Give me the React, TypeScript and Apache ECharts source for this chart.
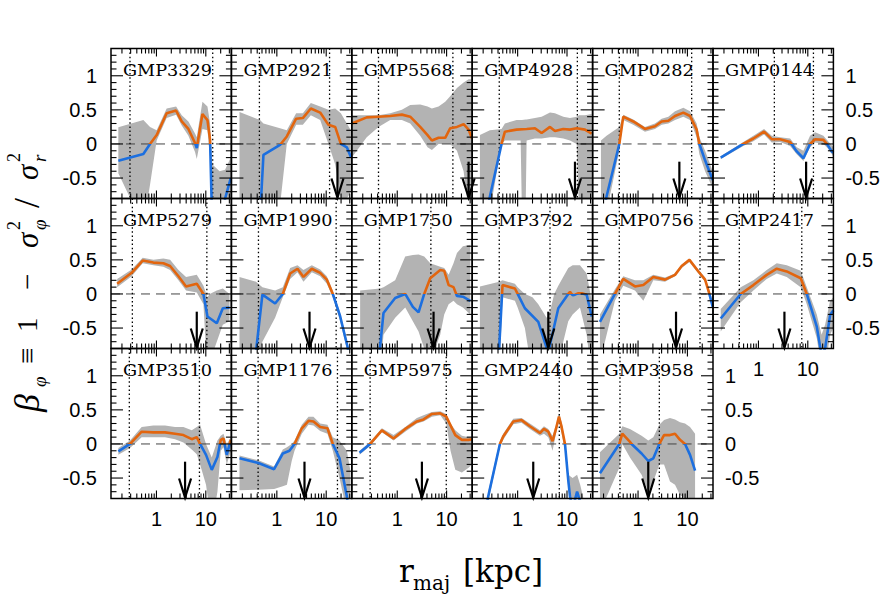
import React, { useEffect, useRef } from "react";
import * as echarts from "echarts";

// ---------- data ----------
const NAMES = [
  "GMP3329", "GMP2921", "GMP5568", "GMP4928", "GMP0282", "GMP0144",
  "GMP5279", "GMP1990", "GMP1750", "GMP3792", "GMP0756", "GMP2417",
  "GMP3510", "GMP1176", "GMP5975", "GMP2440", "GMP3958",
];

// [r_kpc, beta]
const LINE_3329 = [[0.169,-0.245],[0.543,-0.147],[0.741,0],[1.01,0.13],[1.61,0.45],[2.5,0.49],[3.25,0.33],[4.44,0.22],[6.07,0.01],[6.56,-0.06],[8.55,0.44],[10.8,0.35],[12.2,0.06],[13.6,-1.3],[19,-1.6],[24.6,-0.8],[32,-0.5]];
const LINE_2921 = [[0.33,-1.6],[0.44,-1.3],[0.535,-0.16],[1.16,-0.015],[1.59,0.11],[2.46,0.37],[3.36,0.38],[4.88,0.52],[7.55,0.46],[11.1,0.28],[15.2,0.25],[19.8,0],[26.2,-0.05],[31.6,-0.19]];
const LINE_5568 = [[0.12,0.3],[0.241,0.39],[0.417,0.4],[0.72,0.41],[1.24,0.43],[1.83,0.4],[2.92,0.25],[4.11,0.13],[5.03,0.05],[6.87,0.09],[9.38,0.09],[11.8,0.23],[16.2,0.25],[22.1,0.29],[27.9,0.21],[32.6,0.08]];
const LINE_4928 = [[0.2,-1.3],[0.274,-0.77],[0.472,0],[0.552,0.18],[0.95,0.21],[1.52,0.22],[2.24,0.23],[3.06,0.16],[4.52,0.25],[5.7,0.19],[8.41,0.22],[11.5,0.21],[15.7,0.23],[23.1,0.21],[31.6,0.15]];
const LINE_0282 = [[0.18,-1.2],[0.23,-0.77],[0.417,0],[0.502,0.4],[0.8,0.33],[1.38,0.22],[2.2,0.26],[3.01,0.33],[4.11,0.34],[5.61,0.41],[8.28,0.46],[11.3,0.41],[15.4,0.21],[17.5,0],[22.8,-0.24],[32.6,-0.53]];
const LINE_0144 = [[0.172,-0.2],[0.494,0],[0.789,0.08],[1.3,0.18],[1.86,0.07],[2.74,0.07],[4.38,0.03],[5.97,-0.11],[8.15,-0.21],[11.1,0],[14.1,0.07],[20.7,0.06],[25,-0.01],[30.6,-0.11],[33,-0.13]];
const LINE_5279 = [[0.16,0.15],[0.315,0.31],[0.526,0.49],[0.867,0.46],[1.38,0.45],[1.89,0.41],[2.79,0.26],[3.98,0.11],[6.56,0.15],[8.95,0],[10.8,-0.33],[16.7,-0.43],[22.1,-0.21],[30.2,-0.2]];
const LINE_1990 = [[0.33,-1.5],[0.37,-0.9],[0.51,-0.01],[0.922,-0.14],[1.32,0],[1.86,0.3],[2.62,0.37],[3.46,0.25],[5.11,0.37],[7.55,0.31],[10.3,0.21],[13.6,0],[19.2,-0.33],[27,-0.77],[31,-1.1]];
const LINE_1750 = [[0.4,-1.2],[0.45,-0.77],[0.526,-0.28],[0.908,-0.06],[1.45,0],[2.07,-0.19],[2.7,-0.27],[3.52,0],[4.66,0.23],[7.43,0.35],[8.95,0.34],[11,0.13],[13.8,0.1],[16.2,-0.03],[21.4,-0.04],[30.2,-0.1]];
const LINE_3792 = [[0.38,-1.3],[0.424,-0.77],[0.494,0.13],[0.88,0.08],[1.0,0],[1.4,-0.21],[2.62,-0.41],[3.86,-0.79],[4.38,-0.79],[6.66,-0.21],[10.6,0],[11.5,0.03],[13,-0.02],[14.5,-0.01],[17,0.01],[20,0.01],[25,-0.01],[31.6,-0.33]];
const LINE_0756 = [[0.169,-0.41],[0.34,0],[0.502,0.22],[0.867,0.11],[1.28,0.13],[2.04,0.25],[3.52,0.21],[5.61,0.28],[7.66,0.41],[11,0.5],[16.7,0.33],[22.8,0.21],[27.9,0],[32.6,-0.19]];
const LINE_2417 = [[0.172,-0.36],[0.437,0],[0.789,0.13],[1.47,0.28],[2.35,0.37],[3.74,0.33],[7.19,0.23],[9.53,0],[15.2,-0.48],[19,-0.9],[22.4,-0.8],[28.3,-0.31],[33,-0.24]];
const LINE_3510 = [[0.169,-0.11],[0.291,0],[0.502,0.18],[0.867,0.17],[1.49,0.17],[2.38,0.15],[3.52,0.13],[5.19,0.07],[6.56,0.1],[7.66,0],[10.1,-0.16],[13.2,-0.38],[17.2,-0.19],[20.1,0.06],[22.8,0.08],[26.6,-0.16],[32.1,0.06]];
const LINE_1176 = [[0.175,-0.21],[0.424,-0.28],[0.88,-0.37],[1.32,-0.14],[1.8,-0.1],[2.28,0],[3.2,0.23],[4.38,0.34],[5.52,0.33],[7.55,0.25],[10.6,0.23],[13.6,0],[18.6,-0.21],[26.2,-0.77],[31,-1.2]];
const LINE_5975 = [[0.172,-0.13],[0.282,0],[0.488,0.2],[0.84,0.08],[1.45,0.22],[2.5,0.33],[3.41,0.36],[5.03,0.44],[7.43,0.45],[9.84,0.4],[15,0.13],[20.4,0.06],[27.9,0.06],[32.6,0.07]];
const LINE_2440 = [[0.2,-1.2],[0.253,-0.77],[0.437,0],[0.51,0.11],[0.815,0.33],[1.2,0.35],[1.77,0.26],[2.83,0.16],[3.41,0.22],[4.18,0.18],[5.1,0.04],[5.97,0.22],[6.87,0.4],[7.78,0.25],[9.1,0],[10.6,-0.53],[11.5,-0.77],[13,-0.95],[16,-0.7],[18.5,-0.85],[25,-1.3]];
const LINE_3958 = [[0.169,-0.43],[0.417,0],[0.48,0.15],[0.686,0.03],[0.741,0],[1.18,-0.14],[1.61,-0.25],[2.04,-0.21],[2.7,0],[3.36,0.13],[4.44,0.13],[5.61,0.15],[7.08,0.06],[8.95,0],[11.3,-0.16],[14.3,-0.39]];

// [r_kpc, lower, upper]
const BAND_3329 = [[0.169,-0.43,0.245],[0.543,-1.2,0.35],[0.741,-0.6,0.25],[1.01,0.05,0.2],[1.61,0.38,0.52],[2.5,0.43,0.55],[3.25,0.27,0.42],[4.44,0.12,0.33],[6.07,-0.12,0.15],[6.56,-0.22,0.1],[8.55,0.22,0.62],[10.8,0.2,0.55],[12.2,-0.2,0.3],[13.6,-1.5,-0.3],[19,-1.6,-0.4],[24.6,-1.2,-0.38],[32,-0.9,-0.2]];
const BAND_2921 = [[0.175,-1.2,0.47],[0.457,-1.2,0.35],[0.535,-1.0,0.3],[1.16,-0.9,0.23],[1.59,0.0,0.2],[2.46,0.28,0.45],[3.36,0.28,0.45],[4.88,0.42,0.6],[7.55,0.35,0.55],[11.1,0.0,0.5],[15.2,-0.3,0.52],[19.8,-0.8,0.45],[26.2,-0.8,0.3],[31.6,-0.7,0.2]];
const BAND_5568 = [[0.12,-0.2,0.42],[0.241,0.1,0.42],[0.417,0.25,0.42],[0.72,0.35,0.45],[1.24,0.35,0.5],[1.83,0.3,0.57],[2.92,0.12,0.58],[4.11,-0.05,0.55],[5.03,-0.09,0.52],[6.87,0.0,0.55],[9.38,0.0,0.62],[11.8,0.0,0.7],[16.2,-0.1,0.82],[22.1,-0.4,0.9],[27.9,-1.0,0.95],[32.6,-1.0,0.95]];
const BAND_4928 = [[0.172,-1.0,0.13],[0.274,-1.0,0.2],[0.472,0.0,0.22],[0.552,0.05,0.3],[0.95,0.05,0.35],[1.15,0.05,0.35],[1.22,-1.0,0.35],[1.45,-1.0,0.36],[1.52,0.05,0.36],[2.24,0.08,0.38],[3.06,0.08,0.4],[4.52,0.1,0.46],[5.7,0.1,0.45],[8.41,0.08,0.4],[11.5,0.05,0.38],[15.7,0.0,0.4],[17.5,-1.0,0.42],[23.1,-1.0,0.42],[31.6,-1.0,0.44]];
const BAND_0282 = [[0.177,-1.0,0.05],[0.23,-1.0,0.12],[0.417,-0.1,0.25],[0.502,0.35,0.43],[0.8,0.28,0.36],[1.38,0.18,0.25],[2.2,0.22,0.3],[3.01,0.28,0.37],[4.11,0.3,0.4],[5.61,0.35,0.48],[8.28,0.4,0.53],[11.3,0.35,0.48],[15.4,0.1,0.3],[17.5,-0.15,0.1],[22.8,-0.4,-0.1],[32.6,-0.65,-0.4]];
const BAND_0144 = [[0.172,-0.22,-0.18],[0.494,-0.03,0.03],[0.789,0.04,0.12],[1.3,0.14,0.22],[1.86,0.02,0.12],[2.74,0.03,0.1],[4.38,-0.03,0.08],[5.97,-0.15,-0.05],[8.15,-0.25,-0.1],[11.1,-0.05,0.12],[14.1,0.02,0.17],[20.7,0.0,0.12],[25,-0.06,0.05],[33,-0.18,-0.05]];
const BAND_5279 = [[0.16,0.1,0.22],[0.315,0.26,0.36],[0.526,0.45,0.53],[0.867,0.42,0.5],[1.38,0.4,0.52],[1.89,0.35,0.5],[2.79,0.2,0.35],[3.98,0.05,0.25],[6.56,0.02,0.28],[8.95,-0.15,0.12],[10.8,-1.2,-0.05],[12,-1.0,0.0],[16.7,-0.7,0.05],[22.1,-0.45,0.08],[30.2,-0.4,0.0]];
const BAND_1990 = [[0.175,-1.2,0.25],[0.379,-1.2,0.18],[0.51,-0.7,0.1],[0.922,-0.35,0.05],[1.32,-0.05,0.1],[1.86,0.22,0.38],[2.62,0.32,0.42],[3.46,0.18,0.35],[5.11,0.32,0.42],[7.55,0.26,0.36],[10.3,0.15,0.26],[13.6,-0.05,0.05],[19.2,-0.4,-0.28],[27,-0.85,-0.72],[31,-1.2,-1.0]];
const BAND_1750 = [[0.177,-1.2,0.05],[0.45,-1.2,0.08],[0.526,-0.6,0.1],[0.908,-0.35,0.2],[1.45,-0.2,0.55],[2.07,-0.4,0.57],[2.7,-0.55,0.58],[3.52,-0.8,0.55],[4.66,-1.0,0.45],[7.43,-0.6,0.4],[8.95,-0.3,0.38],[11,-0.15,0.28],[13.8,-0.1,0.45],[16.2,-0.15,0.6],[21.4,-0.2,0.7],[30.2,-0.3,0.72]];
const BAND_3792 = [[0.172,-1.2,0.11],[0.424,-1.2,0.18],[0.494,-0.05,0.2],[0.88,-0.1,0.15],[1.0,-0.2,0.1],[1.4,-0.5,0.0],[2.0,-1.2,-0.05],[2.62,-1.2,-0.15],[3.86,-1.2,-0.35],[4.38,-1.2,-0.3],[5.5,-1.2,0.0],[6.66,-1.0,0.12],[10.6,-0.4,0.38],[13,-0.3,0.42],[18.3,-0.2,0.42],[25,-0.6,0.3],[31.6,-1.2,-0.1]];
const BAND_0756 = [[0.169,-1.0,-0.3],[0.34,-0.1,0.07],[0.502,0.12,0.26],[0.867,0.05,0.2],[1.28,-0.1,0.2],[2.04,0.2,0.28],[3.52,0.18,0.24],[5.61,0.26,0.3],[7.66,0.38,0.43],[11,0.47,0.52],[16.7,0.3,0.36],[22.8,0.18,0.24],[27.9,-0.05,0.05],[32.6,-0.25,-0.1]];
const BAND_2417 = [[0.172,-0.55,-0.22],[0.437,-0.12,0.1],[0.789,0.05,0.2],[1.47,0.22,0.35],[2.35,0.3,0.45],[3.74,0.25,0.42],[7.19,0.1,0.34],[9.53,-0.15,0.1],[15.2,-0.65,-0.3],[19,-1.1,-0.6],[22.4,-1.1,-0.45],[28.3,-0.6,-0.1],[33,-0.5,-0.05]];
const BAND_3510 = [[0.169,-0.16,-0.06],[0.291,-0.06,0.05],[0.502,0.1,0.25],[0.867,0.1,0.27],[1.49,0.1,0.27],[2.38,0.07,0.25],[3.52,0.02,0.25],[5.19,-0.08,0.2],[6.56,-0.15,0.25],[7.66,-0.3,0.28],[10.1,-0.6,0.0],[13.2,-1.2,-0.2],[17.2,-0.7,0.05],[20.1,-0.1,0.12],[22.8,-0.05,0.15],[26.6,-0.3,0.0],[32.1,-0.1,0.1]];
const BAND_1176 = [[0.175,-0.68,-0.17],[0.424,-0.67,-0.24],[0.88,-0.66,-0.33],[1.32,-0.62,-0.08],[1.6,-0.6,-0.05],[2.0,-0.25,0.0],[2.28,-0.1,0.05],[3.2,0.15,0.28],[4.38,0.28,0.4],[5.52,0.27,0.4],[7.55,0.19,0.3],[10.6,0.15,0.28],[13.6,-0.1,0.1],[18.6,-0.5,0.05],[26.2,-1.0,-0.1],[31,-1.2,-0.4]];
const BAND_5975 = [[0.172,-0.16,-0.1],[0.282,-0.03,0.03],[0.488,0.17,0.23],[0.84,0.05,0.13],[1.45,0.18,0.25],[2.5,0.3,0.38],[3.41,0.33,0.42],[5.03,0.4,0.47],[7.43,0.42,0.48],[9.84,0.3,0.44],[12,-0.1,0.3],[15,-0.38,0.2],[20.4,-0.42,0.12],[27.9,-0.35,0.1],[32.6,-0.3,0.1]];
const BAND_2440 = [[0.253,-0.85,-0.7],[0.437,-0.05,0.05],[0.51,0.06,0.15],[0.815,0.29,0.37],[1.2,0.31,0.38],[1.77,0.22,0.3],[2.83,0.12,0.2],[3.41,0.15,0.26],[4.18,0.1,0.22],[5.1,-0.1,0.12],[5.97,0.15,0.27],[6.87,0.33,0.45],[7.78,0.15,0.32],[9.1,-0.1,0.05],[10.6,-0.65,-0.45],[13,-1.1,-0.5],[16,-0.9,-0.45],[18.5,-1.1,-0.6],[25,-1.3,-1.0]];
const BAND_3958 = [[0.169,-1.0,-0.12],[0.417,-0.35,0.15],[0.48,0.0,0.26],[0.686,-0.2,0.22],[1.18,-0.45,0.12],[1.61,-0.7,0.05],[2.04,-0.55,0.1],[2.7,-0.3,0.28],[3.36,-0.3,0.35],[4.44,-0.55,0.38],[5.61,-0.6,0.36],[7.08,-0.75,0.32],[8.95,-0.8,0.3],[11.3,-1.0,0.25],[14.3,-1.0,0.15]];

// dotted vertical reference radii (kpc) per panel
const DOTTED = [[0.291,13.8],[0.443,11.7],[0.417,13.4],[0.424,16.2],[0.417,12.2],[2.1,13.0],[0.325,10.5],[0.424,15.9],[0.437,4.8],[0.424,4.52],[0.417,18],[0.41,7.55],[0.282,7.43],[0.417,16.9],[0.282,9.84],[6.98],[0.43,2.7]];
// arrow radii (kpc) per panel
const ARROWS = [null,16.9,27.9,14.5,6.87,9.24,6.56,4.59,5.44,4.18,5.88,3.36,3.8,3.63,3.16,2.07,1.61];

const X_MAJOR_TICKS = [1, 10];
const X_MINOR_TICKS = [0.2,0.3,0.4,0.5,0.6,0.7,0.8,0.9,2,3,4,5,6,7,8,9,20,30];
const Y_MAJOR_TICKS = [-0.5, 0, 0.5, 1];
const Y_MINOR_TICKS = [-0.7,-0.6,-0.4,-0.3,-0.2,-0.1,0.1,0.2,0.3,0.4,0.6,0.7,0.8,0.9,1.1,1.2,1.3];
const X_MIN = 0.12, X_MAX = 33, Y_MIN = -0.8, Y_MAX = 1.4;
const ARROW_TOP = -0.26;
const ZERO_LINE = 0;

const LINES = [LINE_3329,LINE_2921,LINE_5568,LINE_4928,LINE_0282,LINE_0144,LINE_5279,LINE_1990,LINE_1750,LINE_3792,LINE_0756,LINE_2417,LINE_3510,LINE_1176,LINE_5975,LINE_2440,LINE_3958];
const BANDS = [BAND_3329,BAND_2921,BAND_5568,BAND_4928,BAND_0282,BAND_0144,BAND_5279,BAND_1990,BAND_1750,BAND_3792,BAND_0756,BAND_2417,BAND_3510,BAND_1176,BAND_5975,BAND_2440,BAND_3958];

// ---------- style ----------
const BLUE = "#1C6FDF";
const ORANGE = "#E2650E";
const GREY = "#B3B3B3";
const LEFT0 = 111, PW = 120.4, TOP0 = 48.5, PH = 150;
const LABEL_FONT = "Liberation Sans";
const SERIF = "DejaVu Serif";

function isPow10(v: number) {
  const l = Math.log10(v);
  return Math.abs(l - Math.round(l)) < 1e-6;
}

export default function App() {
  const ref = useRef<HTMLDivElement>(null);
  useEffect(() => {
    if (!ref.current) return;
    const chart = echarts.init(ref.current, null, { renderer: "svg" });
    const grids: any[] = [], xAxes: any[] = [], yAxes: any[] = [], series: any[] = [], graphics: any[] = [];
    const lineIdx: number[] = [];

    const tickData: any[] = [];
    X_MINOR_TICKS.forEach((v) => tickData.push([v, 0, 0]));
    X_MAJOR_TICKS.forEach((v) => tickData.push([v, 0, 1]));
    Y_MINOR_TICKS.forEach((v) => tickData.push([1, v, 2]));
    Y_MAJOR_TICKS.forEach((v) => tickData.push([1, v, 3]));
    tickData.push([1, 0, 4]);

    NAMES.forEach((name, i) => {
      const r = Math.floor(i / 6), c = i % 6;
      const left = LEFT0 + c * PW, top = TOP0 + r * PH;
      grids.push({ left, top, width: PW, height: PH, show: false });
      const showX = r === 2 || (r === 1 && c === 5);
      const rightY = (c === 5 && r < 2) || i === 16;
      const showY = c === 0 || rightY;
      xAxes.push({
        type: "log", logBase: 10, gridIndex: i, min: X_MIN, max: X_MAX,
        axisLine: { show: false }, axisTick: { show: false }, splitLine: { show: false },
        axisLabel: {
          show: showX, margin: 10, fontSize: 20, fontFamily: LABEL_FONT, color: "#000",
          formatter: (v: number) => (isPow10(v) ? String(Math.round(v)) : ""),
        },
      });
      yAxes.push({
        type: "value", gridIndex: i, min: Y_MIN, max: Y_MAX, position: rightY ? "right" : "left",
        axisLine: { show: false }, axisTick: { show: false }, splitLine: { show: false },
        axisLabel: {
          show: showY, margin: rightY ? 12 : 14, fontSize: 20, fontFamily: LABEL_FONT, color: "#000",
          formatter: (v: number) => {
            const k = Math.round(v * 2) / 2;
            if (Math.abs(v - k) > 1e-6 || k < -0.5 || k > 1) return "";
            return String(k);
          },
        },
      });

      const band = BANDS[i];
      series.push({
        type: "custom", xAxisIndex: i, yAxisIndex: i, silent: true, clip: true, z: 1,
        data: [[band[0][0], band[0][2]]],
        renderItem: (params: any, api: any) => {
          const upper = band.map((p) => api.coord([p[0], p[2]]));
          const lower = band.slice().reverse().map((p) => api.coord([p[0], p[1]]));
          return { type: "polygon", shape: { points: upper.concat(lower) }, style: { fill: GREY } };
        },
      });

      const guideData: any[] = [[1, ZERO_LINE, 0]];
      DOTTED[i].forEach((x) => guideData.push([x, ZERO_LINE, 1]));
      series.push({
        type: "custom", xAxisIndex: i, yAxisIndex: i, silent: true, z: 2, data: guideData,
        renderItem: (params: any, api: any) => {
          const cs = params.coordSys;
          const p = api.coord([api.value(0), api.value(1)]);
          if (api.value(2) === 0) {
            return { type: "line", shape: { x1: cs.x, y1: p[1], x2: cs.x + cs.width, y2: p[1] },
              style: { stroke: "#444", lineWidth: 1, lineDash: [9, 6] } };
          }
          return { type: "line", shape: { x1: p[0], y1: cs.y, x2: p[0], y2: cs.y + cs.height },
            style: { stroke: "#000", lineWidth: 1.3, lineDash: [1.5, 2.6] } };
        },
      });

      lineIdx.push(series.length);
      series.push({
        type: "line", xAxisIndex: i, yAxisIndex: i, data: LINES[i], showSymbol: false, symbol: "none",
        silent: true, clip: true, z: 4, lineStyle: { width: 2.6 },
      });

      series.push({
        type: "custom", xAxisIndex: i, yAxisIndex: i, silent: true, z: 5, data: tickData,
        renderItem: (params: any, api: any) => {
          const cs = params.coordSys;
          const kind = api.value(2);
          const st = { stroke: "#000", lineWidth: 1.1 };
          if (kind === 4) {
            return { type: "rect", shape: { x: cs.x, y: cs.y, width: cs.width, height: cs.height },
              style: { stroke: "#000", fill: "none", lineWidth: 1.5 } };
          }
          if (kind <= 1) {
            const px = api.coord([api.value(0), ZERO_LINE])[0];
            const len = kind === 1 ? 8 : 5;
            return { type: "group", children: [
              { type: "line", shape: { x1: px, y1: cs.y, x2: px, y2: cs.y + len }, style: st },
              { type: "line", shape: { x1: px, y1: cs.y + cs.height, x2: px, y2: cs.y + cs.height - len }, style: st },
            ] };
          }
          const py = api.coord([1, api.value(1)])[1];
          const len = kind === 3 ? 12 : 5.5;
          return { type: "group", children: [
            { type: "line", shape: { x1: cs.x, y1: py, x2: cs.x + len, y2: py }, style: st },
            { type: "line", shape: { x1: cs.x + cs.width, y1: py, x2: cs.x + cs.width - len, y2: py }, style: st },
          ] };
        },
      });

      const ax = ARROWS[i];
      series.push({
        type: "custom", xAxisIndex: i, yAxisIndex: i, silent: true, z: 6,
        data: ax == null ? [] : [[ax, ARROW_TOP]],
        renderItem: (params: any, api: any) => {
          const top = api.coord([api.value(0), api.value(1)]);
          const tip = api.coord([api.value(0), Y_MIN]);
          const st = { stroke: "#000", lineWidth: 2.2, fill: "none" };
          return { type: "group", children: [
            { type: "line", shape: { x1: top[0], y1: top[1], x2: tip[0], y2: tip[1] - 1 }, style: st },
            { type: "polyline", shape: { points: [[tip[0] - 6, tip[1] - 20], [tip[0], tip[1] - 1], [tip[0] + 6, tip[1] - 20]] }, style: st },
          ] };
        },
      });

      graphics.push({
        type: "text", x: left + 12, y: top + 22, z: 100, scaleX: 1.04,
        style: { text: name, fontSize: 17, fontFamily: SERIF, fill: "#000", align: "left", verticalAlign: "middle" },
      });
    });

    // axis titles
    const t = (x: number, y: number, text: string, size: number, italic = false, family = "Liberation Serif") => ({
      type: "text", x, y, z: 100,
      style: { text, fontSize: size, fontFamily: family, fontStyle: italic ? "italic" : "normal", fill: "#000", align: "left", verticalAlign: "middle" },
    });
    graphics.push({
      type: "group", x: 27, y: 412, rotation: Math.PI / 2, z: 100,
      children: [
        t(0, 0, "β", 36, true),
        t(25, 12, "φ", 19, true),
        t(48, 0, "≡", 29),
        t(80, 0, "1", 29),
        t(122, 0, "−", 29),
        t(164, 0, "σ", 31, true),
        t(182, -13, "2", 18),
        t(182, 12, "φ", 19, true),
        t(204, 0, "/", 36),
        t(232, 0, "σ", 31, true),
        t(250, -13, "2", 18),
        t(250, 12, "r", 19, true),
      ],
    });
    graphics.push(t(399, 571, "r", 31, false, SERIF));
    graphics.push(t(413, 583, "maj", 20, false, SERIF));
    graphics.push(t(463, 571, "[kpc]", 31, false, SERIF));

    chart.setOption({
      animation: false,
      backgroundColor: "#fff",
      grid: grids,
      xAxis: xAxes,
      yAxis: yAxes,
      visualMap: {
        type: "piecewise", show: false, dimension: 1, seriesIndex: lineIdx,
        pieces: [{ gte: -50, lt: 0, color: BLUE }, { gte: 0, lte: 50, color: ORANGE }],
      },
      series,
      graphic: graphics,
    });
    return () => chart.dispose();
  }, []);
  return <div ref={ref} style={{ position: "absolute", left: 0, top: 0, width: 894, height: 598, background: "#fff" }} />;
}
